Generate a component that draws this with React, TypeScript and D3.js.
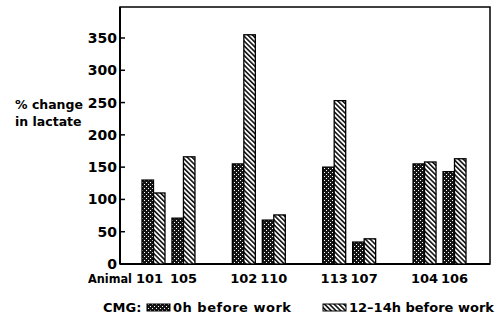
import React, { useEffect, useRef } from 'react';
import * as d3 from 'd3';

// animals, grouped in pairs as in the figure
const groups = ['A', 'B', 'C', 'D'];
const animals = [
  ['101', '105'],
  ['102', '110'],
  ['113', '107'],
  ['104', '106'],
];
const series = ['0h before work', '12\u201314h before work'];
// % change in lactate, per animal (same order as animals)
const zeroH = [[130, 71], [155, 68], [150, 34], [155, 143]];
const twelveH = [[110, 166], [355, 76], [253, 39], [158, 163]];
const yTicks = [0, 50, 100, 150, 200, 250, 300, 350];

const W = 495;
const H = 321;
const font = '"DejaVu Sans", sans-serif';

const App = () => {
  const ref = useRef<SVGSVGElement>(null);

  useEffect(() => {
    const svg = d3.select(ref.current);
    svg.selectAll('*').remove();

    const frame = { left: 120, right: 490, top: 7, bottom: 264 };

    const y = d3.scaleLinear().domain([0, 398]).range([frame.bottom, frame.top]);

    const xGroup = d3.scaleBand<string>()
      .domain(groups)
      .range([142, 466])
      .paddingInner(0.414)
      .paddingOuter(0);
    const xPair = d3.scaleBand<number>()
      .domain([0, 1])
      .range([0, xGroup.bandwidth()])
      .paddingInner(0.233)
      .paddingOuter(0);
    const xSeries = d3.scaleBand<number>()
      .domain([0, 1])
      .range([0, xPair.bandwidth()])
      .padding(0);

    // patterns
    const defs = svg.append('defs');
    const dots = defs.append('pattern')
      .attr('id', 'dots')
      .attr('patternUnits', 'userSpaceOnUse')
      .attr('width', 4).attr('height', 4);
    dots.append('rect').attr('width', 4).attr('height', 4).attr('fill', '#151515');
    dots.append('rect').attr('x', 0).attr('y', 0).attr('width', 1).attr('height', 1).attr('fill', '#fff');
    dots.append('rect').attr('x', 2).attr('y', 2).attr('width', 1).attr('height', 1).attr('fill', '#fff');

    const hatch = defs.append('pattern')
      .attr('id', 'hatch')
      .attr('patternUnits', 'userSpaceOnUse')
      .attr('width', 3.4).attr('height', 3.4)
      .attr('patternTransform', 'rotate(-45)');
    hatch.append('rect').attr('width', 3.4).attr('height', 3.4).attr('fill', '#fff');
    hatch.append('rect').attr('width', 1.6).attr('height', 3.4).attr('fill', '#111');

    const fills = ['url(#dots)', 'url(#hatch)'];

    // frame
    svg.append('rect')
      .attr('x', frame.left).attr('y', frame.top)
      .attr('width', frame.right - frame.left)
      .attr('height', frame.bottom - frame.top)
      .attr('fill', 'none')
      .attr('stroke', '#000')
      .attr('stroke-width', 1.5);
    svg.append('line')
      .attr('x1', frame.left).attr('x2', frame.right)
      .attr('y1', frame.bottom).attr('y2', frame.bottom)
      .attr('stroke', '#000').attr('stroke-width', 2.2);
    svg.append('line')
      .attr('x1', frame.left).attr('x2', frame.left)
      .attr('y1', frame.top).attr('y2', frame.bottom)
      .attr('stroke', '#000').attr('stroke-width', 2);

    // y ticks
    const yt = svg.append('g');
    yt.selectAll('line').data(yTicks.slice(1)).join('line')
      .attr('x1', frame.left).attr('x2', frame.left + 5)
      .attr('y1', d => y(d)).attr('y2', d => y(d))
      .attr('stroke', '#000').attr('stroke-width', 1.5);
    yt.selectAll('text').data(yTicks).join('text')
      .attr('x', 117)
      .attr('y', d => y(d) + 5)
      .attr('text-anchor', 'end')
      .style('font-family', font)
      .style('font-weight', 'bold')
      .style('font-size', '14px')
      .text(d => d);

    // y title
    const yl = svg.append('text')
      .attr('x', 15)
      .style('font-family', font)
      .style('font-weight', 'bold')
      .style('font-size', '12.5px');
    yl.append('tspan').attr('x', 15).attr('y', 109).text('% change');
    yl.append('tspan').attr('x', 15).attr('y', 126).text('in lactate');

    // bars
    groups.forEach((g, gi) => {
      animals[gi].forEach((a, ai) => {
        const vals = [zeroH[gi][ai], twelveH[gi][ai]];
        const x0 = (xGroup(g) ?? 0) + (xPair(ai) ?? 0);
        vals.forEach((v, si) => {
          svg.append('rect')
            .attr('x', x0 + (xSeries(si) ?? 0))
            .attr('y', y(v))
            .attr('width', xSeries.bandwidth())
            .attr('height', y(0) - y(v))
            .attr('fill', fills[si])
            .attr('stroke', '#000')
            .attr('stroke-width', 1.3);
        });
        svg.append('text')
          .attr('x', x0 + xPair.bandwidth() / 2 - (gi === 0 && ai === 0 ? 4 : 0))
          .attr('y', 283)
          .attr('text-anchor', 'middle')
          .style('font-family', font)
          .style('font-weight', 'bold')
          .style('font-size', '13px')
          .text(a);
      });
    });

    svg.append('text')
      .attr('x', 88).attr('y', 283)
      .attr('textLength', 44)
      .attr('lengthAdjust', 'spacingAndGlyphs')
      .style('font-family', font)
      .style('font-weight', 'bold')
      .style('font-size', '13px')
      .text('Animal');

    // legend
    const lg = svg.append('g').style('font-family', font).style('font-weight', 'bold').style('font-size', '13px');
    lg.append('text').attr('x', 103).attr('y', 312).text('CMG:');
    const legendX = [147, 323];
    const legendLen = [118, 145];
    series.forEach((s, i) => {
      lg.append('rect')
        .attr('x', legendX[i]).attr('y', 304)
        .attr('width', 23).attr('height', 7)
        .attr('fill', fills[i])
        .attr('stroke', '#000').attr('stroke-width', 1);
      lg.append('text')
        .attr('x', legendX[i] + 26).attr('y', 312)
        .attr('textLength', legendLen[i])
        .attr('lengthAdjust', 'spacing')
        .text(s);
    });
  }, []);

  return <svg ref={ref} width={W} height={H} style={{ display: 'block', position: 'absolute', left: 0, top: 0 }} />;
};

export default App;
